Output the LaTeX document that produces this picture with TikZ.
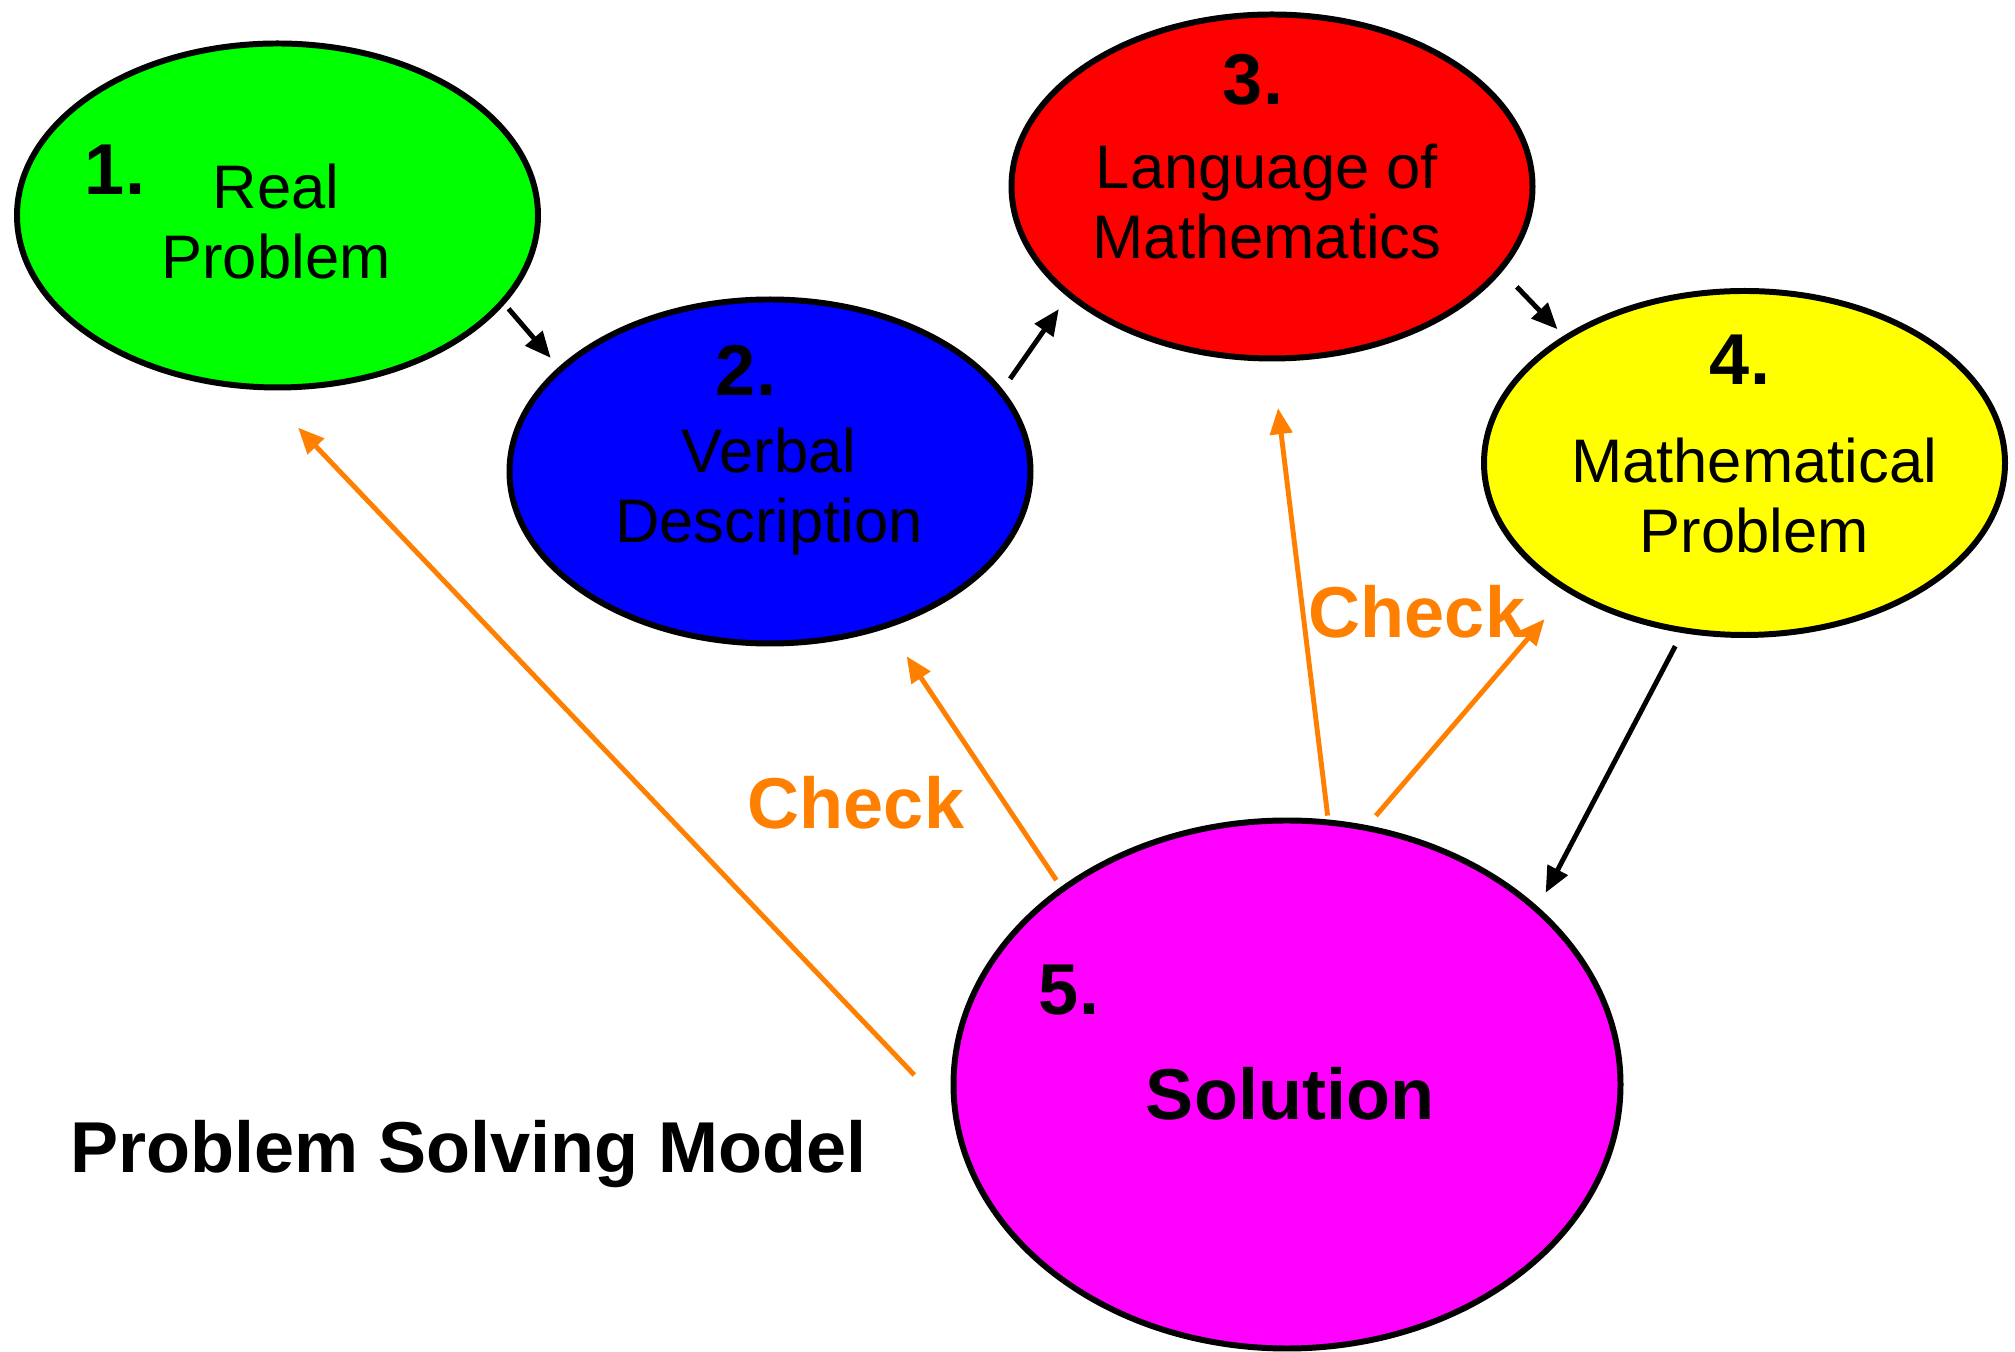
\documentclass[tikz,border=0pt]{standalone}
\usepackage{fontspec}
\setmainfont{Liberation Sans}
\usetikzlibrary{shapes.geometric,arrows.meta}
\definecolor{stagegreen}{RGB}{0,255,0}
\definecolor{stageblue}{RGB}{0,0,255}
\definecolor{stagered}{RGB}{255,0,0}
\definecolor{stageyellow}{RGB}{255,255,0}
\definecolor{stagemagenta}{RGB}{255,0,255}
\definecolor{checkorange}{RGB}{255,128,0}
\tikzset{
  stage/.style={ellipse, draw=black, line width=1.7pt, inner sep=0pt, outer sep=0pt, minimum width=5.21cm, minimum height=3.44cm},
  stagenum/.style={font=\bfseries\fontsize{20.5}{24}\selectfont, inner sep=0pt},
  stagelabel/.style={font=\fontsize{17.5}{20.06}\selectfont, align=center, inner sep=0pt, anchor=north},
  flow/.style={-{Triangle[length=0.26cm,width=0.22cm]}, line width=1.4pt, draw=black},
  checkflow/.style={flow, draw=checkorange},
  checklabel/.style={font=\bfseries\fontsize{20.5}{24}\selectfont, text=checkorange, inner sep=0pt},
}

\begin{document}
\begin{tikzpicture}
\useasboundingbox (0,0) rectangle (20.15,13.51);
\node[stage, fill=stagegreen] (real) at (2.775,11.355) {};
\node[stage, fill=stageblue] (verbal) at (7.70,8.795) {};
\node[stage, fill=stagered] (lang) at (12.72,11.645) {};
\node[stage, fill=stageyellow] (mathprob) at (17.445,8.88) {};
\node[stage, fill=stagemagenta, minimum width=6.67cm, minimum height=5.28cm] (sol) at (12.87,2.665) {};
\node[stagenum] (num1) at (1.15,11.81) {1.};
\node[stagelabel] (real text) at (2.76,11.88) {Real\\Problem};
\node[stagenum] (num2) at (7.46,9.81) {2.};
\node[stagelabel] (verbal text) at (7.69,9.24) {Verbal\\Description};
\node[stagenum] (num3) at (12.53,12.71) {3.};
\node[stagelabel] (lang text) at (12.67,12.08) {Language of\\Mathematics};
\node[stagenum] (num4) at (17.40,9.91) {4.};
\node[stagelabel] (mathprob text) at (17.54,9.14) {Mathematical\\Problem};
\node[stagenum] (num5) at (10.69,3.61) {5.};
\node[stagenum] (sol text) at (12.90,2.57) {Solution};
\node[checklabel] (check left) at (8.56,5.48) {Check};
\node[checklabel] (check right) at (14.17,7.39) {Check};
\node[stagenum, anchor=base] (title) at (4.685,1.78) {Problem Solving Model};
\draw[flow, shorten <=0.09cm, shorten >=0.15cm] (real.-21.9) -- (verbal.154);
\draw[flow, shorten <=0.16cm, shorten >=0.18cm] (verbal.19.4) -- (lang.208.8);
\draw[flow, shorten <=0.24cm, shorten >=0.12cm] (lang.-20.6) -- (mathprob.145.8);
\draw[flow, shorten <=0.18cm, shorten >=0.19cm] (mathprob.-110.7) -- (sol.35.7);
\draw[checkflow, shorten <=0.61cm, shorten >=0.56cm] (sol.186.4) -- (real.-96.7);
\draw[checkflow, shorten <=0.11cm, shorten >=0.37cm] (sol.139.7) -- (verbal.-53.5);
\draw[checkflow, shorten <=0.07cm, shorten >=0.50cm] (sol.81.5) -- (lang.-90.4);
\draw[checkflow, shorten <=0.16cm, shorten >=0.38cm] (sol.73.2) -- (mathprob.-144.3);
\end{tikzpicture}
\end{document}
